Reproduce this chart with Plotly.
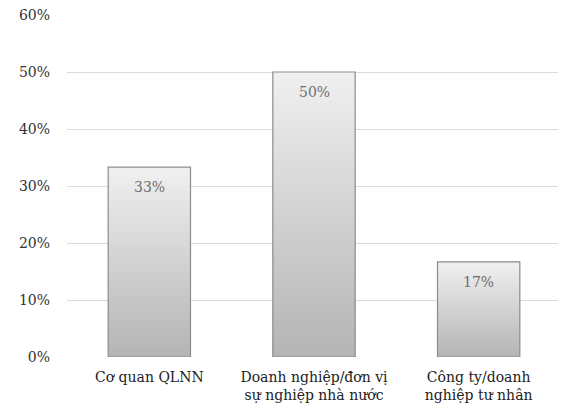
import plotly.graph_objects as go

categories = ["Cơ quan QLNN", "Doanh nghiệp/đơn vị<br>sự nghiệp nhà nước", "Công ty/doanh<br>nghiệp tư nhân"]
values = [33.3, 50.0, 16.7]
labels = ["33%", "50%", "17%"]
tick_vals = [0, 10, 20, 30, 40, 50, 60]
tick_text = ["0%", "10%", "20%", "30%", "40%", "50%", "60%"]

half_w = 0.25
font_family = "DejaVu Serif"

fig = go.Figure()
for i, v in enumerate(values):
    fig.add_trace(go.Scatter(
        x=[i - half_w, i + half_w, i + half_w, i - half_w, i - half_w],
        y=[0, 0, v, v, 0],
        mode="lines",
        fill="toself",
        fillgradient=dict(type="vertical",
                          colorscale=[[0, "#b4b4b4"], [1, "#f0f0f0"]]),
        line=dict(color="#8c8c8c", width=1.2),
        hoverinfo="skip",
        showlegend=False,
    ))

for i, (v, lab) in enumerate(zip(values, labels)):
    fig.add_annotation(
        x=i, y=v, text=lab, showarrow=False, yshift=-20,
        font=dict(family=font_family, size=14, color="#707070"),
    )

fig.update_layout(
    width=566, height=417,
    margin=dict(l=59, r=13, t=7, b=68, autoexpand=False),
    paper_bgcolor="white", plot_bgcolor="white",
    font=dict(family=font_family, size=14, color="#333333"),
)
fig.update_xaxes(
    range=[-0.5, 2.5], tickmode="array", tickvals=[0, 1, 2], ticktext=categories,
    showgrid=False, zeroline=False, showline=False, ticks="", automargin=False,
    ticklabelstandoff=10,
    tickfont=dict(family=font_family, size=14, color="#222222"),
)
fig.update_yaxes(
    range=[0, 60], tickmode="array", tickvals=tick_vals, ticktext=tick_text,
    showgrid=True, gridcolor="#dcdcdc", gridwidth=1.2, zeroline=False,
    showline=False, ticks="", ticklabelstandoff=16, automargin=False,
    ticklabeloverflow="allow",
    tickfont=dict(family=font_family, size=14, color="#333333"),
)
fig.write_html("out.html")
